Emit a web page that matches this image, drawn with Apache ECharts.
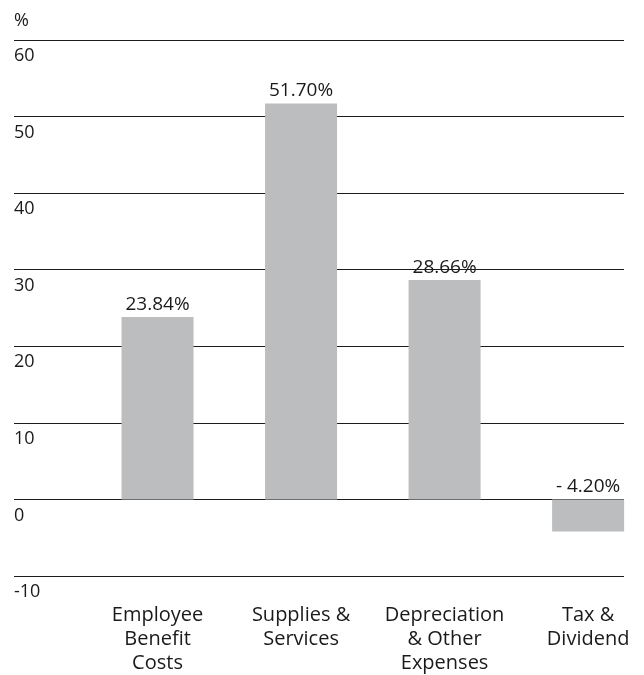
<!DOCTYPE html>
<html>
<head>
<meta charset="utf-8">
<script src="https://cdn.jsdelivr.net/npm/echarts@6/dist/echarts.min.js"></script>
<style>
  html, body { margin: 0; padding: 0; background: #ffffff; }
  #chart { width: 644px; height: 675px; }
</style>
</head>
<body>
<div id="chart"></div>
<script>
// Expense categories (one line per label row)
const categories = [
  'Employee\nBenefit\nCosts',
  'Supplies &\nServices',
  'Depreciation\n& Other\nExpenses',
  'Tax &\nDividend'
];
// Share of each category, in percent
const shares = [23.84, 51.70, 28.66, -4.20];
// Value axis range and step
const yMin = -10;
const yMax = 60;
const yStep = 10;

const FONT = '"Open Sans", "Noto Sans", sans-serif';
const TEXT = '#1a1a1a';
const RULE = '#1c1c1c';

const chart = echarts.init(document.getElementById('chart'), null, { renderer: 'canvas' });

const fmtShare = v => (v < 0 ? '- ' + Math.abs(v).toFixed(2) : v.toFixed(2)) + '%';

// Categories sit at slots 1..n of a numeric x scale; slot 0 is the empty
// margin that holds the percent labels on the left.
const slotData = shares.map((v, i) => [i + 1, v]);

chart.setOption({
  animation: false,
  backgroundColor: '#ffffff',
  grid: { left: 14, right: 20, top: 40, bottom: 98 },
  xAxis: {
    type: 'value',
    min: 0,
    max: categories.length + 0.25,
    interval: 1,
    axisLine: { show: false },
    axisTick: { show: false },
    splitLine: { show: false },
    axisLabel: {
      margin: 27,
      showMinLabel: true,
      showMaxLabel: true,
      fontFamily: FONT,
      fontSize: 20,
      lineHeight: 24,
      color: TEXT,
      align: 'center',
      formatter: v => (Number.isInteger(v) && v >= 1 && v <= categories.length) ? categories[v - 1] : ''
    }
  },
  yAxis: {
    type: 'value',
    min: yMin,
    max: yMax,
    interval: yStep,
    name: '%',
    nameLocation: 'end',
    nameGap: 19,
    nameTextStyle: {
      fontFamily: FONT,
      fontSize: 18,
      color: TEXT,
      align: 'left',
      verticalAlign: 'middle'
    },
    axisLine: { show: false },
    axisTick: { show: false },
    splitLine: { show: true, lineStyle: { color: RULE, width: 1 } },
    axisLabel: {
      inside: true,
      margin: 0,
      align: 'left',
      verticalAlign: 'top',
      padding: [7, 0, 0, 0],
      fontFamily: FONT,
      fontSize: 18,
      color: TEXT
    }
  },
  series: [
    {
      type: 'bar',
      barWidth: 72,
      data: slotData,
      itemStyle: { color: '#bcbdbf' },
      label: {
        show: true,
        position: 'top',
        distance: 3,
        fontFamily: FONT,
        fontSize: 19,
        color: TEXT,
        formatter: p => fmtShare(p.value[1])
      }
    }
  ]
});
</script>
</body>
</html>
